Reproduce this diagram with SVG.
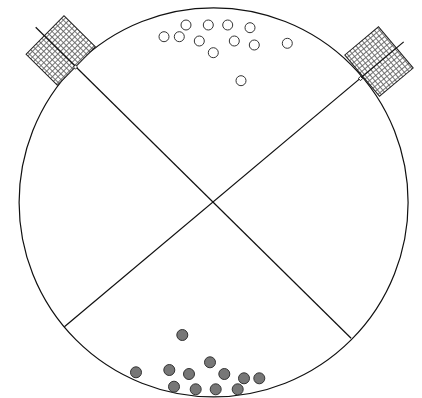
<svg xmlns="http://www.w3.org/2000/svg" width="422" height="398" viewBox="0 0 422 398">
<defs>
<pattern id="mesh" patternUnits="userSpaceOnUse" width="4" height="4" x="0" y="0">
<rect width="4" height="4" fill="#fff"/>
<path d="M0 0.5H4M0.5 0V4" stroke="#666" stroke-width="0.9"/>
</pattern>
</defs>
<style>
.ring{fill:none;stroke:#111;stroke-width:1.2}
.ray{stroke:#111;stroke-width:1.2;fill:none}
.det{fill:url(#mesh);stroke:#222;stroke-width:1}
.tick{fill:#fff;stroke:#111;stroke-width:0.8}
.open{fill:#fff;stroke:#333;stroke-width:1}
.full{fill:#777;stroke:#333;stroke-width:1}
</style>
<g id="vessel"><circle class="ring" cx="213.6" cy="202.4" r="194.5"/></g>
<g id="detector-left" transform="translate(60.7 50.5) rotate(44.6)">
<rect class="det" x="-22" y="-27" width="44" height="54"/>
</g>
<g id="detector-right" transform="translate(379 61.5) rotate(-40)">
<rect class="det" x="-22" y="-27" width="44" height="54"/>
</g>
<g id="connectors">
<line class="ray" x1="64.4" y1="326.7" x2="403.7" y2="41.9"/>
<line class="ray" x1="351.1" y1="338.2" x2="35.7" y2="27.2"/>
<rect class="tick" x="-1.5" y="-1.5" width="3" height="3" transform="translate(75.5 67) rotate(44.6)"/>
<rect class="tick" x="-1.5" y="-1.5" width="3" height="3" transform="translate(360.5 78.5) rotate(-40)"/>
</g>
<g id="open-particles">
<circle class="open" cx="186" cy="25" r="5"/>
<circle class="open" cx="208.3" cy="25" r="5"/>
<circle class="open" cx="227.7" cy="25" r="5"/>
<circle class="open" cx="250" cy="27.7" r="5"/>
<circle class="open" cx="164" cy="36.7" r="5"/>
<circle class="open" cx="179.3" cy="36.7" r="5"/>
<circle class="open" cx="199.3" cy="41" r="5"/>
<circle class="open" cx="234.3" cy="41" r="5"/>
<circle class="open" cx="254.3" cy="45" r="5"/>
<circle class="open" cx="213.3" cy="52.7" r="5"/>
<circle class="open" cx="287.3" cy="43.3" r="5"/>
<circle class="open" cx="241" cy="80.7" r="5"/>
</g>
<g id="filled-particles">
<circle class="full" cx="182.3" cy="335" r="5.5"/>
<circle class="full" cx="136" cy="372.3" r="5.5"/>
<circle class="full" cx="169.3" cy="370" r="5.5"/>
<circle class="full" cx="189" cy="374" r="5.5"/>
<circle class="full" cx="210" cy="362.3" r="5.5"/>
<circle class="full" cx="224.3" cy="374" r="5.5"/>
<circle class="full" cx="244" cy="378.3" r="5.5"/>
<circle class="full" cx="259.3" cy="378.3" r="5.5"/>
<circle class="full" cx="174" cy="386.7" r="5.5"/>
<circle class="full" cx="195.7" cy="389.3" r="5.5"/>
<circle class="full" cx="215.7" cy="389.3" r="5.5"/>
<circle class="full" cx="237.7" cy="389.3" r="5.5"/>
</g>
</svg>
